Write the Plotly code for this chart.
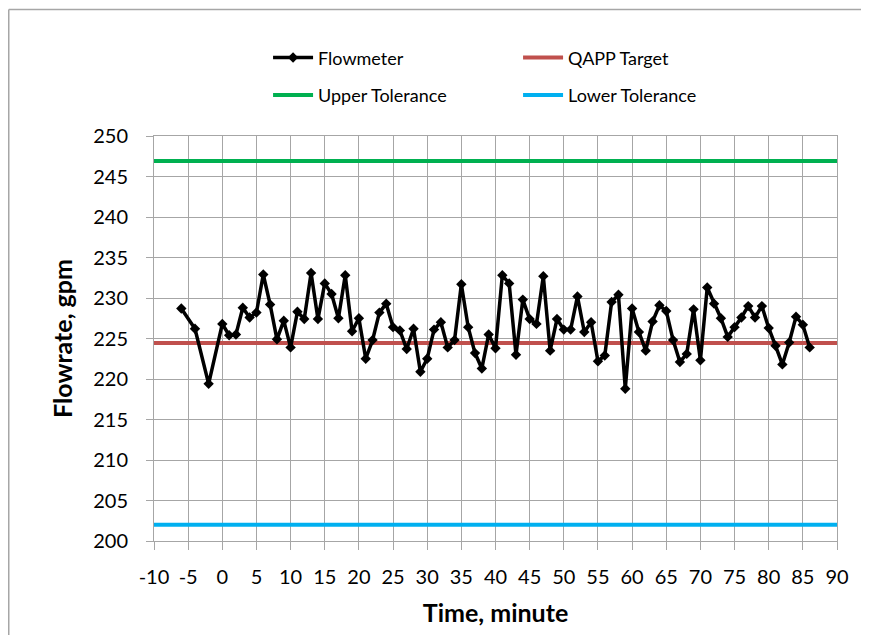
import plotly.graph_objects as go

# Flowmeter readings (minute, gpm)
time_min = [-6, -4, -2, 0, 1, 2, 3, 4, 5, 6, 7, 8, 9, 10, 11, 12, 13, 14, 15, 16,
            17, 18, 19, 20, 21, 22, 23, 24, 25, 26, 27, 28, 29, 30, 31, 32, 33, 34,
            35, 36, 37, 38, 39, 40, 41, 42, 43, 44, 45, 46, 47, 48, 49, 50, 51, 52,
            53, 54, 55, 56, 57, 58, 59, 60, 61, 62, 63, 64, 65, 66, 67, 68, 69, 70,
            71, 72, 73, 74, 75, 76, 77, 78, 79, 80, 81, 82, 83, 84, 85, 86]
flow_gpm = [228.7, 226.2, 219.4, 226.8, 225.4, 225.5, 228.8, 227.6, 228.2, 232.9,
            229.2, 224.9, 227.2, 223.9, 228.3, 227.4, 233.1, 227.4, 231.8, 230.5,
            227.5, 232.8, 225.9, 227.5, 222.5, 224.8, 228.2, 229.3, 226.4, 226.0,
            223.7, 226.2, 220.9, 222.5, 226.1, 227.0, 223.9, 224.8, 231.7, 226.4,
            223.2, 221.3, 225.5, 223.8, 232.8, 231.8, 223.0, 229.8, 227.4, 226.8,
            232.7, 223.5, 227.4, 226.1, 226.1, 230.2, 225.8, 227.0, 222.2, 222.9,
            229.5, 230.4, 218.8, 228.7, 225.8, 223.5, 227.1, 229.1, 228.4, 224.8,
            222.1, 223.1, 228.6, 222.3, 231.3, 229.3, 227.5, 225.2, 226.4, 227.6,
            229.0, 227.6, 229.0, 226.3, 224.1, 221.8, 224.5, 227.7, 226.7, 223.9]

# reference lines span the whole x range
ref_x = [-10, 90]
qapp_target = 224.45
upper_tol = 246.9
lower_tol = 202.0

x_ticks = [-10, -5, 0, 5, 10, 15, 20, 25, 30, 35, 40, 45, 50, 55, 60, 65, 70, 75, 80, 85, 90]
x_labels = ["-10", "-5", "0", "5", "10", "15", "20", "25", "30", "35", "40",
            "45", "50", "55", "60", "65", "70", "75", "80", "85", "90"]
y_ticks = [200, 205, 210, 215, 220, 225, 230, 235, 240, 245, 250]

FONT = "Lato"
GRID = "#A6A6A6"

# page body adds an 8px margin, so the figure is sized/offset to compensate
W, H = 861, 627
ML, MT = 146, 128
PW, PH = 683, 407

fig = go.Figure()

fig.add_trace(go.Scatter(x=ref_x, y=[upper_tol, upper_tol], mode="lines",
                         name="Upper Tolerance", legend="legend2",
                         line=dict(color="#00B050", width=4)))
fig.add_trace(go.Scatter(x=ref_x, y=[lower_tol, lower_tol], mode="lines",
                         name="Lower Tolerance", legend="legend2",
                         line=dict(color="#00B0F0", width=4)))
fig.add_trace(go.Scatter(x=ref_x, y=[qapp_target, qapp_target], mode="lines",
                         name="QAPP Target", legend="legend",
                         line=dict(color="#C0504D", width=4)))
fig.add_trace(go.Scatter(x=time_min, y=flow_gpm, mode="lines+markers",
                         name="Flowmeter", legend="legend",
                         line=dict(color="black", width=3.5),
                         marker=dict(symbol="diamond", size=8, color="black")))

legend_style = dict(orientation="h", xanchor="left", yanchor="middle",
                    x=0.167, entrywidth=195, entrywidthmode="pixels", itemwidth=40,
                    traceorder="normal", bgcolor="rgba(0,0,0,0)",
                    font=dict(family=FONT, size=18, color="black"))

# chart frame: only the left and top edges fall inside the picture
x_left = (0.75 - ML) / PW
y_top = (MT + PH - 0.75) / PH
frame = dict(color="#A6A6A6", width=1.5)

fig.update_layout(
    width=W, height=H,
    margin=dict(l=ML, r=W - ML - PW, t=MT, b=H - MT - PH),
    paper_bgcolor="white", plot_bgcolor="white",
    font=dict(family=FONT, color="black"),
    showlegend=True,
    legend=dict(legend_style, y=1.193, traceorder="reversed"),
    legend2=dict(legend_style, y=1.1007),
    shapes=[dict(type="line", xref="paper", yref="paper",
                 x0=x_left, x1=x_left, y0=-0.4, y1=y_top, line=frame),
            dict(type="line", xref="paper", yref="paper",
                 x0=x_left, x1=1.2, y0=y_top, y1=y_top, line=frame)],
)

fig.update_xaxes(range=[-10, 90], tickvals=x_ticks, ticktext=x_labels,
                 ticks="outside", ticklen=8,
                 tickcolor=GRID, showgrid=True, gridcolor=GRID, gridwidth=1,
                 showline=True, linecolor=GRID, mirror=True, zeroline=False,
                 tickfont=dict(family=FONT, size=20), ticklabelstandoff=10,
                 title=dict(text="<b>Time, minute</b>", standoff=17,
                            font=dict(family=FONT, size=25)))
fig.update_yaxes(range=[200, 250], tickvals=y_ticks, ticks="outside", ticklen=7,
                 tickcolor=GRID, showgrid=True, gridcolor=GRID, gridwidth=1,
                 showline=True, linecolor=GRID, mirror=True, zeroline=False,
                 tickfont=dict(family=FONT, size=20), ticklabelstandoff=14,
                 title=dict(text="<b>Flowrate, gpm</b>", standoff=13,
                            font=dict(family=FONT, size=25)))

fig.write_html("out.html")
